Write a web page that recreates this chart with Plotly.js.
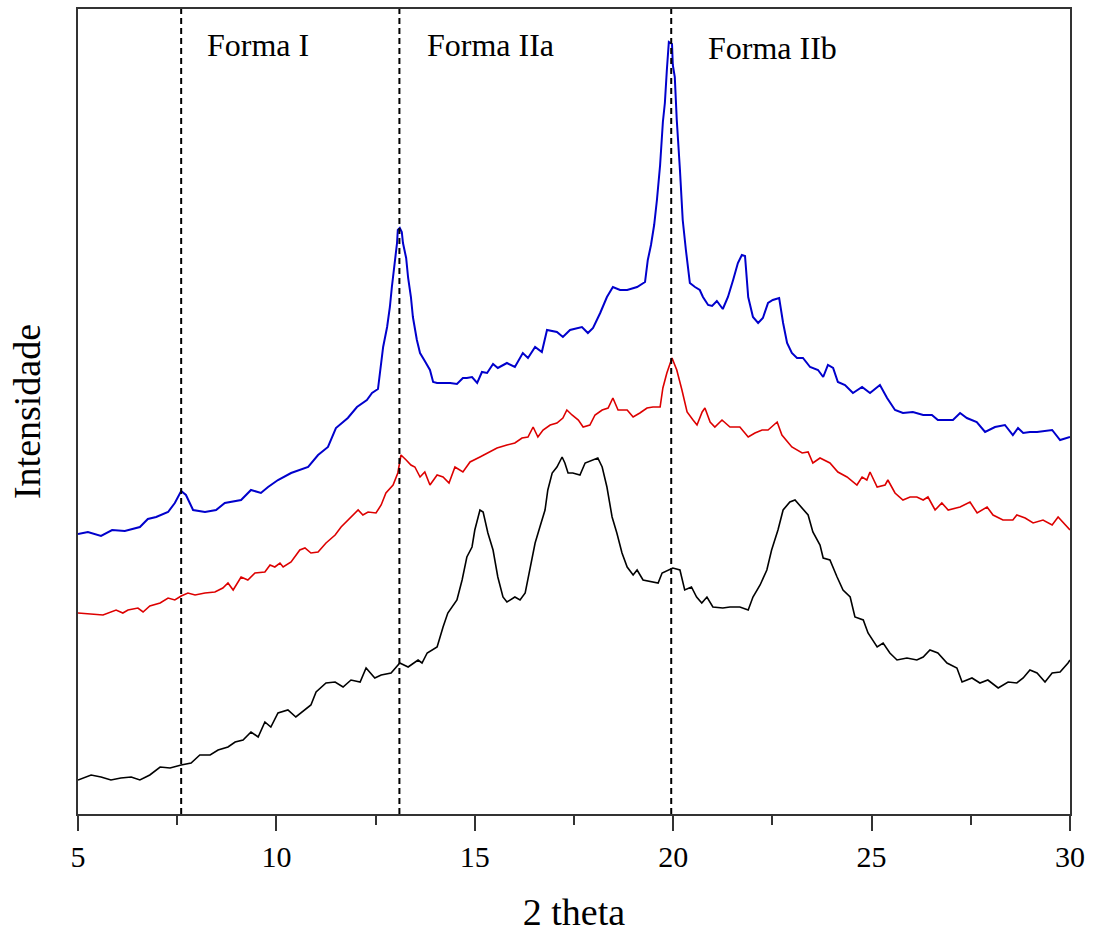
<!DOCTYPE html>
<html>
<head>
<meta charset="utf-8">
<script src="https://cdn.plot.ly/plotly-3.0.1.min.js"></script>
<style>html,body{margin:0;padding:0;background:#fff;}#chart{width:1096px;height:933px;}</style>
</head>
<body>
<div id="chart"></div>
<script>
// 2-theta / intensity (arbitrary units, curves offset as in the figure)
var blueTheta = [5.00,5.25,5.58,5.86,6.18,6.39,6.56,6.76,6.97,7.27,7.44,7.60,7.72,7.90,8.20,8.48,8.70,9.11,9.36,9.61,9.79,10.04,10.37,10.80,11.05,11.30,11.50,11.80,12.03,12.28,12.41,12.56,12.61,12.69,12.79,12.86,12.91,12.99,13.04,13.06,13.11,13.16,13.19,13.27,13.32,13.39,13.44,13.54,13.62,13.74,13.87,13.95,14.05,14.20,14.38,14.55,14.70,14.80,14.93,15.06,15.18,15.31,15.46,15.58,15.81,16.01,16.21,16.34,16.52,16.69,16.82,17.07,17.22,17.40,17.70,17.85,17.98,18.16,18.33,18.48,18.66,18.84,19.09,19.29,19.36,19.44,19.52,19.59,19.67,19.74,19.79,19.84,19.89,19.97,19.99,20.04,20.09,20.17,20.24,20.32,20.42,20.55,20.67,20.75,20.88,20.98,21.10,21.25,21.38,21.51,21.63,21.73,21.81,21.89,22.01,22.14,22.26,22.39,22.51,22.67,22.77,22.87,22.99,23.12,23.27,23.45,23.65,23.78,23.90,24.03,24.15,24.33,24.53,24.76,24.96,25.21,25.39,25.59,25.79,26.04,26.30,26.52,26.67,27.05,27.23,27.40,27.65,27.86,28.11,28.36,28.56,28.69,28.82,28.99,29.17,29.55,29.75,30.00];
var blueInt = [280,282,278,284,283,285,287,295,297,302,311,323,319,304,302,304,311,314,324,321,327,334,341,347,359,367,386,396,407,414,421,425,441,467,487,507,527,551,571,584,586,582,571,556,536,517,497,474,461,453,444,432,431,431,431,430,436,436,437,431,442,441,450,446,451,447,461,456,467,462,484,482,477,484,487,481,486,501,517,527,524,524,527,532,554,569,589,614,649,692,711,744,772,770,749,737,694,644,594,564,531,527,524,517,509,508,513,505,517,534,551,559,558,517,497,491,496,511,514,516,491,471,461,456,456,447,444,437,449,446,432,429,421,427,421,429,416,404,401,402,399,399,394,394,401,396,392,382,387,389,379,386,381,382,382,384,374,377];

var redTheta = [5.00,5.63,5.96,6.13,6.26,6.51,6.64,6.81,7.07,7.27,7.44,7.60,7.77,7.95,8.20,8.45,8.65,8.78,8.91,9.11,9.28,9.46,9.71,9.84,9.96,10.09,10.17,10.37,10.59,10.72,10.87,11.05,11.25,11.48,11.63,11.80,12.06,12.18,12.31,12.51,12.64,12.76,12.94,13.06,13.14,13.27,13.39,13.49,13.62,13.74,13.87,14.05,14.20,14.35,14.50,14.70,14.88,15.13,15.33,15.56,15.81,16.01,16.19,16.34,16.47,16.59,16.72,16.90,17.07,17.22,17.32,17.45,17.61,17.73,17.90,18.03,18.21,18.36,18.48,18.61,18.84,18.99,19.16,19.34,19.49,19.67,19.74,19.84,19.97,20.09,20.22,20.35,20.50,20.60,20.73,20.80,20.93,21.05,21.23,21.43,21.68,21.89,22.06,22.24,22.39,22.62,22.74,22.99,23.25,23.40,23.52,23.70,23.95,24.15,24.38,24.63,24.76,24.88,24.96,25.14,25.34,25.41,25.59,25.79,25.97,26.14,26.30,26.42,26.60,26.77,26.93,27.23,27.48,27.66,27.91,28.06,28.31,28.56,28.66,28.87,29.07,29.32,29.55,29.70,30.00];
var redInt = [201,199,204,201,204,206,202,208,211,216,214,218,221,219,221,222,226,231,224,237,234,241,242,249,247,251,247,252,264,266,261,262,271,279,287,294,304,299,302,301,309,321,329,341,359,354,349,347,337,342,329,339,337,331,347,342,352,357,361,366,369,371,376,377,387,377,384,389,391,396,404,399,394,387,389,399,404,406,416,404,404,397,401,406,407,407,426,441,456,444,424,402,394,389,402,406,392,387,394,387,387,377,381,384,384,392,379,367,361,362,351,356,351,342,337,329,337,334,342,327,329,334,321,314,317,317,314,317,304,311,304,307,312,301,307,299,294,294,299,296,291,294,289,297,284];

var blackTheta = [5.00,5.33,5.58,5.83,6.08,6.34,6.56,6.81,7.07,7.32,7.60,7.85,8.07,8.33,8.53,8.78,8.96,9.16,9.36,9.54,9.71,9.86,10.04,10.29,10.49,10.72,10.87,11.00,11.25,11.48,11.68,11.88,12.11,12.26,12.48,12.64,12.89,13.11,13.32,13.57,13.67,13.80,14.05,14.20,14.32,14.55,14.68,14.80,14.93,15.00,15.13,15.21,15.33,15.46,15.58,15.71,15.81,16.01,16.14,16.27,16.39,16.52,16.64,16.77,16.84,16.95,17.07,17.20,17.27,17.35,17.47,17.65,17.78,17.95,18.10,18.21,18.33,18.46,18.58,18.71,18.84,18.99,19.09,19.24,19.49,19.62,19.72,19.87,19.99,20.17,20.29,20.46,20.59,20.72,20.85,21.00,21.25,21.43,21.68,21.89,22.01,22.19,22.36,22.48,22.64,22.77,22.94,23.07,23.25,23.40,23.52,23.70,23.78,23.95,24.13,24.28,24.46,24.58,24.79,24.91,25.14,25.29,25.46,25.64,25.89,26.14,26.30,26.47,26.67,26.90,27.15,27.28,27.53,27.73,27.93,28.19,28.44,28.66,28.82,28.99,29.17,29.37,29.55,29.75,29.95,30.00];
var blackInt = [34,39,37,34,36,37,34,39,47,46,49,51,59,59,64,67,72,74,82,77,92,87,101,104,97,104,109,122,131,132,127,134,132,146,136,139,141,151,147,154,151,161,167,187,201,214,234,257,267,284,304,302,281,264,237,217,212,217,214,221,244,271,287,304,324,341,347,357,351,341,341,339,351,354,356,347,327,297,281,261,247,239,244,234,232,231,241,244,246,244,224,227,217,211,217,207,206,207,207,204,217,229,244,264,284,304,312,314,306,299,282,269,256,254,237,224,217,197,194,181,167,171,161,154,156,154,157,164,161,151,146,132,136,131,134,126,132,131,136,144,141,132,141,142,151,154];

var formaPositions = [7.6, 13.1, 19.95];
var formaLabels = ['Forma I', 'Forma IIa', 'Forma IIb'];
var formaLabelX = [8.2, 13.75, 20.83];
var xTickVals = [5, 10, 15, 20, 25, 30];

var font = 'Liberation Serif, Times New Roman, serif';

var traces = [
  {x: blueTheta, y: blueInt, mode: 'lines', line: {color: '#0000CC', width: 2}, hoverinfo: 'skip'},
  {x: redTheta, y: redInt, mode: 'lines', line: {color: '#DD0000', width: 1.6}, hoverinfo: 'skip'},
  {x: blackTheta, y: blackInt, mode: 'lines', line: {color: '#000000', width: 1.6}, hoverinfo: 'skip'}
];

var shapes = formaPositions.map(function (p) {
  return {type: 'line', xref: 'x', yref: 'paper', x0: p, x1: p, y0: 0, y1: 1,
          line: {color: '#000', width: 2, dash: '6px,4px'}};
});
var annotations = formaLabels.map(function (t, i) {
  return {text: t, x: formaLabelX[i], xref: 'x', xanchor: 'left', y: i === 2 ? 0.951 : 0.955,
          yref: 'paper', yanchor: 'middle', showarrow: false,
          font: {family: font, size: 32, color: '#000'}};
});

var layout = {
  width: 1096, height: 933,
  margin: {l: 78, r: 26, t: 9, b: 119},
  paper_bgcolor: '#fff', plot_bgcolor: '#fff',
  showlegend: false,
  font: {family: font, color: '#000'},
  xaxis: {
    range: [5, 30], tickvals: xTickVals, ticktext: xTickVals.map(String),
    ticks: 'outside', ticklen: 15, tickwidth: 2, tickcolor: '#333',
    minor: {dtick: 2.5, tick0: 5, ticks: 'outside', ticklen: 9, tickwidth: 2, tickcolor: '#333', showgrid: false},
    showline: true, linecolor: '#333', linewidth: 2, mirror: true,
    showgrid: false, zeroline: false,
    tickfont: {family: font, size: 30, color: '#000'},
    title: {text: '2 theta', font: {family: font, size: 38, color: '#000'}, standoff: 26}
  },
  yaxis: {
    range: [0, 805], showticklabels: false, ticks: '',
    showline: true, linecolor: '#333', linewidth: 2, mirror: true,
    showgrid: false, zeroline: false,
    title: {text: 'Intensidade', font: {family: font, size: 38, color: '#000'}, standoff: 24}
  },
  shapes: shapes,
  annotations: annotations
};

Plotly.newPlot('chart', traces, layout, {staticPlot: true, displayModeBar: false});
</script>
</body>
</html>
